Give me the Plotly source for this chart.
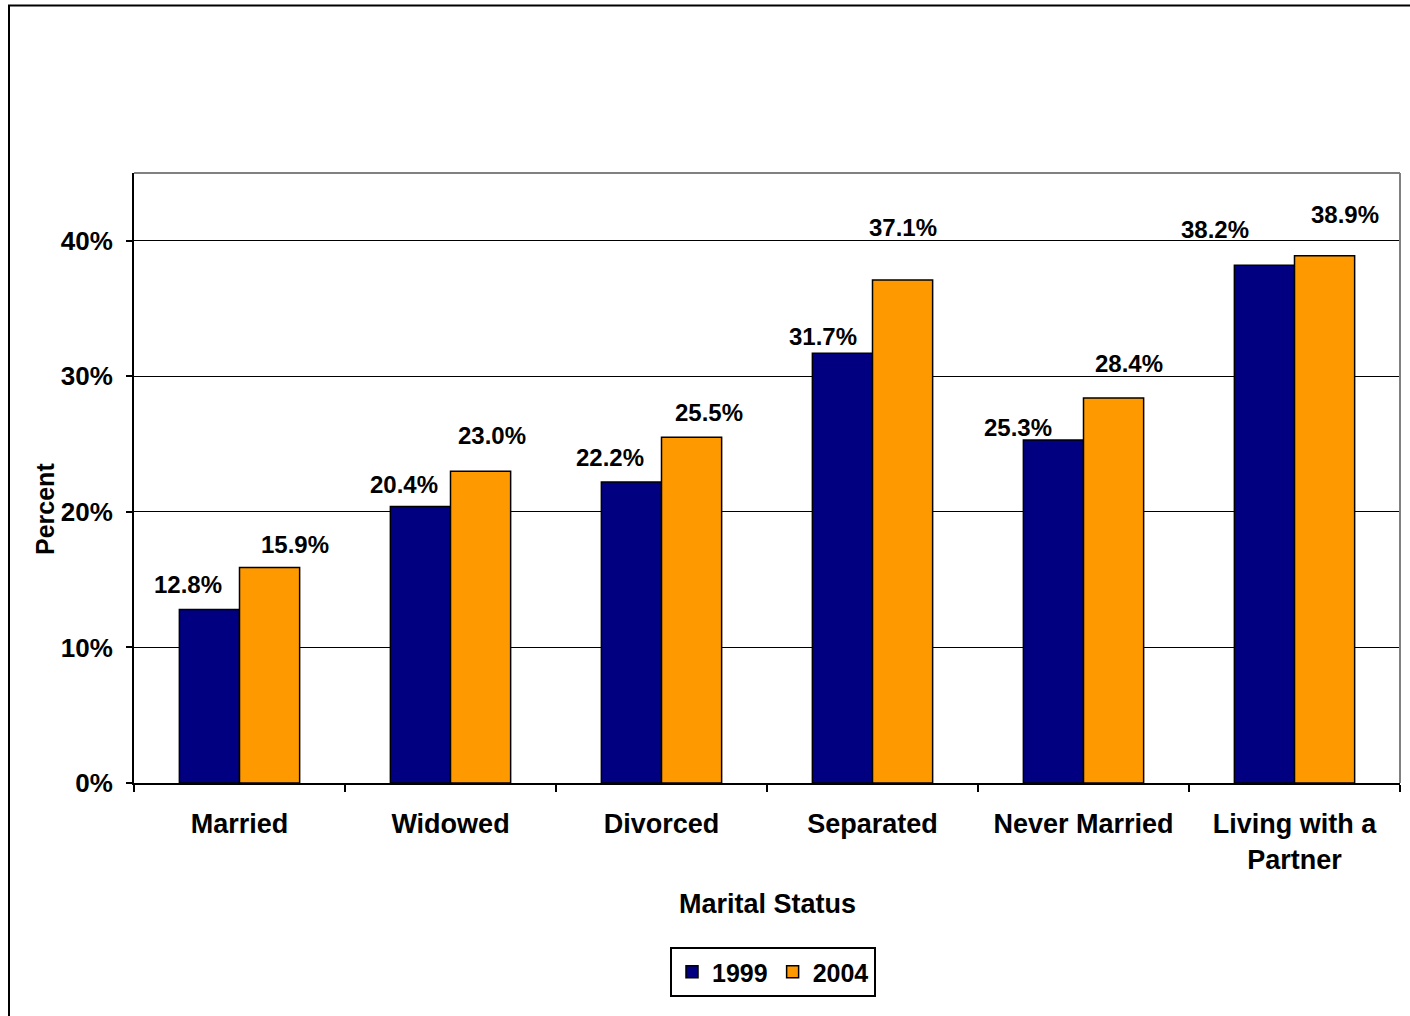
import plotly.graph_objects as go

# Share of respondents by marital status, two survey years
categories = ["Married", "Widowed", "Divorced", "Separated", "Never Married", "Living with a<br>Partner"]
years = ["1999", "2004"]
values_1999 = [12.8, 20.4, 22.2, 31.7, 25.3, 38.2]
values_2004 = [15.9, 23.0, 25.5, 37.1, 28.4, 38.9]
y_ticks = [0, 10, 20, 30, 40]
y_tick_text = ["0%", "10%", "20%", "30%", "40%"]

# Label placement offsets (pixels) relative to each bar's top centre
label_dx_1999 = [-21, -16, -21, -19, -35, -49]
label_dy_1999 = [25, 22, 25, 17, 13, 36]
label_dx_2004 = [25, 11, 17, 0, 15, 20]
label_dy_2004 = [23, 36, 25, 53, 35, 41]

colors = {"1999": "#000080", "2004": "#FF9900"}
font_family = "Liberation Sans, Arial, sans-serif"

W, H = 1410, 1016
L, R, T, B = 134, 10, 173, 233

fig = go.Figure()
for year, vals in zip(years, [values_1999, values_2004]):
    fig.add_trace(go.Bar(
        name=year,
        x=categories,
        y=vals,
        marker=dict(color=colors[year], line=dict(color="black", width=1.5)),
        hoverinfo="skip",
    ))

# Half a bar width in pixels, to centre labels over each bar of a pair
plot_w = W - L - R
group_w = plot_w / len(categories)
bargap = 0.43
half_bar = group_w * (1 - bargap) / 4

annotations = []
for vals, dxs, dys, side in [
    (values_1999, label_dx_1999, label_dy_1999, -1),
    (values_2004, label_dx_2004, label_dy_2004, 1),
]:
    for cat, v, dx, dy in zip(categories, vals, dxs, dys):
        annotations.append(dict(
            x=cat, y=v, xref="x", yref="y",
            text=f"<b>{v:.1f}%</b>", showarrow=False,
            xanchor="center", yanchor="middle",
            xshift=side * half_bar + dx, yshift=dy,
            font=dict(family=font_family, size=24, color="black"),
        ))

plot_h = H - T - B
annotations.append(dict(
    x=(767 - L) / plot_w, y=(783 - 904) / plot_h, xref="paper", yref="paper",
    text="<b>Marital Status</b>", showarrow=False,
    xanchor="center", yanchor="middle",
    font=dict(family=font_family, size=27, color="black"),
))
annotations.append(dict(
    x=(45 - L) / plot_w, y=(783 - 509) / plot_h, xref="paper", yref="paper",
    text="<b>Percent</b>", showarrow=False, textangle=-90,
    xanchor="center", yanchor="middle",
    font=dict(family=font_family, size=25, color="black"),
))

shapes = [
    # outer frame
    dict(type="rect", xref="paper", yref="paper",
         x0=(9 - L) / plot_w, x1=(1415 - L) / plot_w,
         y0=(783 - 1020) / plot_h, y1=(783 - 5.5) / plot_h,
         line=dict(color="black", width=2), layer="below"),
    # plot-area top and right edges
    dict(type="line", xref="paper", yref="paper", x0=0, x1=1, y0=1, y1=1,
         line=dict(color="#808080", width=2)),
    dict(type="line", xref="paper", yref="paper", x0=1, x1=1, y0=0, y1=1,
         line=dict(color="#808080", width=2)),
]

fig.update_layout(
    width=W, height=H,
    margin=dict(l=L, r=R, t=T, b=B, pad=0),
    paper_bgcolor="white", plot_bgcolor="white",
    barmode="group", bargap=bargap, bargroupgap=0,
    font=dict(family=font_family, color="black"),
    showlegend=True,
    legend=dict(
        orientation="h", x=(773 - L) / plot_w, xanchor="center",
        y=(783 - 972) / plot_h, yanchor="middle",
        bordercolor="black", borderwidth=2, bgcolor="white",
        font=dict(family=font_family, size=25, color="black", weight="bold"),
        itemwidth=30, traceorder="normal",
    ),
    annotations=annotations,
    shapes=shapes,
)

fig.update_xaxes(
    type="category", tickson="boundaries",
    ticks="outside", ticklen=7, tickwidth=2, tickcolor="black",
    showline=True, linecolor="black", linewidth=2,
    showgrid=False,
    tickfont=dict(family=font_family, size=27, color="black", weight="bold"),
    ticklabelstandoff=16,
)
fig.update_yaxes(
    range=[0, 45], tickmode="array", tickvals=y_ticks, ticktext=y_tick_text,
    ticks="outside", ticklen=6, tickwidth=2, tickcolor="black",
    showline=True, linecolor="black", linewidth=2,
    showgrid=True, gridcolor="black", gridwidth=1,
    zeroline=False,
    tickfont=dict(family=font_family, size=26, color="black", weight="bold"),
    ticklabelstandoff=8,
)

fig.write_html("out.html")
